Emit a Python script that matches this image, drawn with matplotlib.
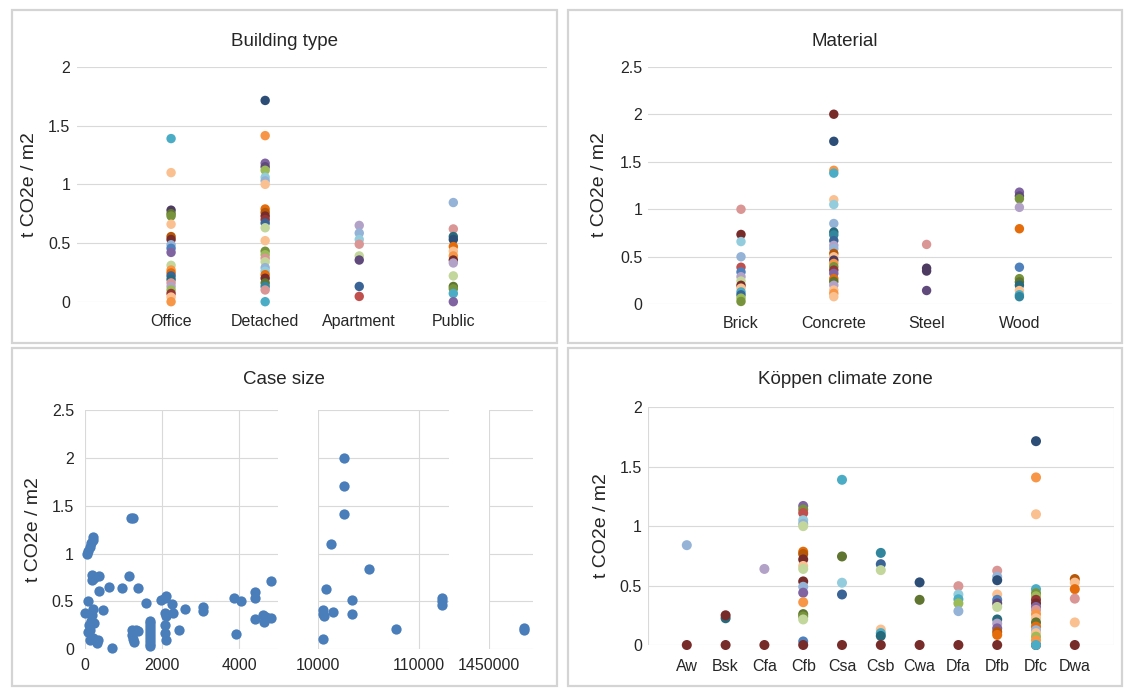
import matplotlib.pyplot as plt
from matplotlib.patches import Rectangle
from matplotlib.ticker import FuncFormatter

plt.rcParams['font.family'] = ['Liberation Sans', 'DejaVu Sans']

# --- data -------------------------------------------------------------
building_types = ['Office', 'Detached', 'Apartment', 'Public']
office = [1.39, 1.10, 0.78, 0.75, 0.73, 0.66, 0.555, 0.53, 0.485, 0.455, 0.42,
          0.31, 0.27, 0.245, 0.22, 0.19, 0.16, 0.13, 0.10, 0.07, 0.04, 0.0]
detached = [1.715, 1.415, 1.18, 1.15, 1.12, 1.06, 1.03, 1.0, 0.79, 0.76, 0.73,
            0.70, 0.67, 0.63, 0.52, 0.43, 0.40, 0.37, 0.34, 0.29, 0.26, 0.23,
            0.20, 0.16, 0.13, 0.10, 0.0]
apartment = [0.65, 0.585, 0.53, 0.49, 0.39, 0.355, 0.13, 0.045]
public = [0.845, 0.62, 0.555, 0.53, 0.47, 0.43, 0.39, 0.355, 0.33, 0.22, 0.13,
          0.11, 0.07, 0.0]

materials = ['Brick', 'Concrete', 'Steel', 'Wood']
brick = [1.0, 0.735, 0.66, 0.5, 0.39, 0.34, 0.29, 0.245, 0.2, 0.17, 0.13, 0.10,
         0.065, 0.03]
concrete = [2.0, 1.715, 1.41, 1.38, 1.1, 1.05, 0.85, 0.76, 0.73, 0.67, 0.62,
            0.585, 0.535, 0.50, 0.465, 0.43, 0.395, 0.36, 0.325, 0.27, 0.24,
            0.20, 0.15, 0.115, 0.08]
steel = [0.63, 0.38, 0.35, 0.145]
wood = [1.18, 1.14, 1.11, 1.02, 0.795, 0.39, 0.27, 0.235, 0.20, 0.145, 0.10, 0.08]

# case size (m2) against embodied carbon
case_size = [0, 45, 85, 130, 160, 195, 220, 170, 175, 350, 240, 365, 610, 955,
             1130, 1365, 1190, 1240, 85, 200, 180, 160, 130, 110, 130, 200, 300,
             345, 460, 710, 1590, 90, 240, 1220, 1230, 1240, 1260, 1320, 1380,
             1680, 1680, 1680, 1680, 1680, 1680, 1680, 1680, 1680, 1680,
             1960, 2110, 2060, 2260, 2060, 2110, 2280, 2060, 2060, 2110, 2430,
             2600, 3060, 3060, 3870, 4040, 3900, 4410, 4410, 4410, 4610, 4630,
             4700, 4810, 4830,
             35700, 35700, 35700, 22200, 60200, 17300, 43300, 14300, 15900,
             15000, 24800, 43300, 14300, 86900, 132800, 132800, 132800,
             1530000, 1530000]
case_value = [0.38, 1.0, 1.03, 1.07, 1.11, 1.14, 1.17, 0.78, 0.72, 0.77, 0.75,
              0.61, 0.655, 0.645, 0.765, 0.64, 1.37, 1.37, 0.5, 0.42, 0.36, 0.30,
              0.2, 0.25, 0.1, 0.12, 0.07, 0.1, 0.41, 0.01, 0.48, 0.18, 0.27, 0.2,
              0.15, 0.11, 0.08, 0.2, 0.19,
              0.3, 0.27, 0.24, 0.21, 0.18, 0.15, 0.12, 0.09, 0.06, 0.03,
              0.515, 0.557, 0.54, 0.47, 0.38, 0.35, 0.38, 0.25, 0.17, 0.1, 0.2,
              0.42, 0.445, 0.405, 0.535, 0.5, 0.16, 0.6, 0.54, 0.32, 0.36, 0.29,
              0.34, 0.33, 0.715,
              2.0, 1.71, 1.41, 1.1, 0.84, 0.63, 0.51, 0.41, 0.35, 0.37, 0.39,
              0.37, 0.11, 0.21, 0.54, 0.5, 0.46,
              0.225, 0.2]
size_ranges = [(0, 5000), (10000, 140000), (1450000, 1550000)]
size_ticks = [[0, 2000, 4000], [10000, 110000], [1450000]]

zones = ['Aw', 'Bsk', 'Cfa', 'Cfb', 'Csa', 'Csb', 'Cwa', 'Dfa', 'Dfb', 'Dfc', 'Dwa']
aw = [0.84, 0.0]
bsk = [0.225, 0.25, 0.0]
cfa = [0.64, 0.0]
cfb = [1.17, 1.14, 1.11, 1.05, 1.02, 1.0, 0.785, 0.765, 0.72, 0.665, 0.64,
       0.535, 0.49, 0.44, 0.36, 0.26, 0.24, 0.215, 0.03, 0.0]
csa = [1.39, 0.745, 0.524, 0.425, 0.0]
csb = [0.775, 0.68, 0.63, 0.13, 0.1, 0.076, 0.0]
cwa = [0.527, 0.38, 0.0]
dfa = [0.495, 0.425, 0.385, 0.35, 0.285, 0.0]
dfb = [0.625, 0.575, 0.545, 0.425, 0.38, 0.35, 0.32, 0.215, 0.18, 0.14, 0.11,
       0.085, 0.0]
dfc = [0.0, 1.715, 1.41, 1.1, 0.47, 0.435, 0.41, 0.38, 0.35, 0.32, 0.295, 0.26,
       0.225, 0.19, 0.155, 0.125, 0.1, 0.07, 0.04, 0.0]
dwa = [0.555, 0.525, 0.47, 0.39, 0.19, 0.0]

# --- styling ----------------------------------------------------------
PALETTE = ['#4F81BD', '#C0504D', '#9BBB59', '#8064A2', '#4BACC6', '#F79646',
           '#2C4D75', '#772C2A', '#5F7530', '#4D3B62', '#276A7C', '#B65708',
           '#95B3D7', '#D99694', '#C3D69B', '#B3A2C7', '#93CDDD', '#FAC090',
           '#3A6496', '#963634', '#77933C', '#604A7B', '#31859C', '#E46C0A']

# series colour index for every point, same order as the value lists
office_c = [4, 17, 9, 8, 20, 17, 11, 7, 12, 0, 3, 14, 5, 23, 18, 10, 13, 15, 2,
            19, 17, 5]
detached_c = [6, 5, 3, 21, 2, 16, 12, 17, 23, 11, 7, 19, 18, 14, 17, 20, 2, 13,
              14, 12, 16, 23, 7, 8, 22, 13, 4]
apartment_c = [15, 12, 16, 13, 14, 21, 18, 1]
public_c = [12, 13, 10, 6, 23, 17, 5, 7, 15, 14, 8, 20, 4, 3]

brick_c = [13, 7, 16, 12, 1, 0, 15, 14, 7, 17, 4, 18, 2, 20]
concrete_c = [7, 6, 5, 4, 17, 16, 12, 10, 22, 18, 15, 12, 11, 17, 9, 5, 20, 19,
              3, 23, 8, 15, 17, 5, 17]
steel_c = [13, 9, 9, 21]
wood_c = [3, 21, 20, 15, 23, 0, 20, 8, 10, 17, 4, 22]

aw_c = [12, 7]
bsk_c = [10, 7, 7]
cfa_c = [15, 7]
cfb_c = [3, 20, 1, 16, 12, 14, 23, 11, 7, 17, 14, 7, 12, 3, 5, 8, 20, 14, 0, 7]
csa_c = [4, 8, 16, 18, 7]
csb_c = [22, 18, 14, 17, 4, 10, 7]
cwa_c = [6, 8, 7]
dfa_c = [13, 16, 4, 2, 12, 7]
dfb_c = [13, 12, 6, 17, 0, 21, 14, 10, 15, 3, 11, 23, 7]
dfc_c = [7, 6, 5, 17, 4, 20, 2, 19, 7, 3, 13, 5, 17, 8, 23, 12, 17, 2, 5, 4]
dwa_c = [11, 17, 23, 13, 17, 7]

TEXT = '#262626'
GRID = '#D9D9D9'
FRAME = '#D4D4D4'
W, H = 1125, 688

fig = plt.figure(figsize=(W / 100, H / 100), dpi=100)


def px_axes(x0, y0, x1, y1):
    return fig.add_axes([x0 / W, 1 - y1 / H, (x1 - x0) / W, (y1 - y0) / H])


def frame(x0, y0, x1, y1):
    fig.add_artist(Rectangle((x0 / W, 1 - y1 / H), (x1 - x0) / W, (y1 - y0) / H,
                             transform=fig.transFigure, fill=False,
                             edgecolor=FRAME, lw=1.6))


def base_style(ax, ymax, ypad, xpad, show_y=True):
    ax.set_ylim(0, ymax)
    ax.set_yticks([i * 0.5 for i in range(int(ymax / 0.5) + 1)])
    ax.yaxis.set_major_formatter(FuncFormatter(lambda v, _: f'{v:g}'))
    for s in ax.spines.values():
        s.set_visible(False)
    ax.tick_params(length=0, labelsize=11.5, colors=TEXT)
    ax.tick_params(axis='y', pad=ypad, labelleft=show_y)
    ax.tick_params(axis='x', pad=xpad)
    ax.grid(axis='y', color=GRID, lw=0.8)
    ax.set_axisbelow(True)


def category_scatter(ax, names, columns, colours, size):
    for i, (vals, cols) in enumerate(zip(columns, colours), start=1):
        ax.scatter([i] * len(vals), vals, c=[PALETTE[k] for k in cols], s=size,
                   lw=0, clip_on=False, zorder=3)
    ax.set_xticks(range(1, len(names) + 1))
    ax.set_xticklabels(names)


def title_and_ylabel(title, cx, ty, lx, ly):
    fig.text(cx / W, 1 - ty / H, title, ha='center', va='center',
             fontsize=13.5, color=TEXT)
    fig.text(lx / W, 1 - ly / H, 't CO2e / m2', rotation=90, ha='center',
             va='center', fontsize=14, color=TEXT)


# panel frames
frame(12, 10, 557, 343)
frame(568, 10, 1122, 343)
frame(12, 348, 557, 686)
frame(568, 348, 1122, 686)

# Building type
ax1 = px_axes(77, 67, 547.4, 301.7)
base_style(ax1, 2, 4.8, 9)
category_scatter(ax1, building_types, [office, detached, apartment, public],
                 [office_c, detached_c, apartment_c, public_c], 46)
ax1.set_xlim(0, 5)
title_and_ylabel('Building type', 284, 42, 29, 185)

# Material
ax2 = px_axes(648.2, 66.7, 1112.2, 304.3)
base_style(ax2, 2.5, 4.3, 8.5)
category_scatter(ax2, materials, [brick, concrete, steel, wood],
                 [brick_c, concrete_c, steel_c, wood_c], 46)
ax2.set_xlim(0, 5)
title_and_ylabel('Material', 845, 42, 600, 185)

# Case size, split into three x ranges
seg_px = [(85, 278), (318.3, 449.3), (489.3, 532.7)]
for n, ((x0, x1), (lo, hi), ticks) in enumerate(zip(seg_px, size_ranges, size_ticks)):
    ax = px_axes(x0, 410, x1, 649.3)
    base_style(ax, 2.5, 8, 6, show_y=(n == 0))
    ax.grid(axis='x', color=GRID, lw=0.8)
    xs = [s for s in case_size if lo <= s <= hi]
    ys = [v for s, v in zip(case_size, case_value) if lo <= s <= hi]
    ax.scatter(xs, ys, color='#4A7EBB', s=55, lw=0, clip_on=False, zorder=3)
    ax.set_xlim(lo, hi)
    ax.set_xticks(ticks)
    ax.set_xticklabels([str(t) for t in ticks])
title_and_ylabel('Case size', 284, 380, 34, 530)

# Koppen climate zone
ax4 = px_axes(648, 407.3, 1113.6, 645)
base_style(ax4, 2, 4.3, 10)
category_scatter(ax4, zones,
                 [aw, bsk, cfa, cfb, csa, csb, cwa, dfa, dfb, dfc, dwa],
                 [aw_c, bsk_c, cfa_c, cfb_c, csa_c, csb_c, cwa_c, dfa_c, dfb_c,
                  dfc_c, dwa_c], 52)
ax4.set_xlim(0, 12)
ax4.set_xticks(range(0, 13, 2), minor=True)
ax4.tick_params(which='minor', length=0)
ax4.grid(axis='x', which='minor', color=GRID, lw=0.8)
title_and_ylabel('Köppen climate zone', 845, 380, 602, 526)

fig.savefig('out.png', dpi=100, facecolor='white')
